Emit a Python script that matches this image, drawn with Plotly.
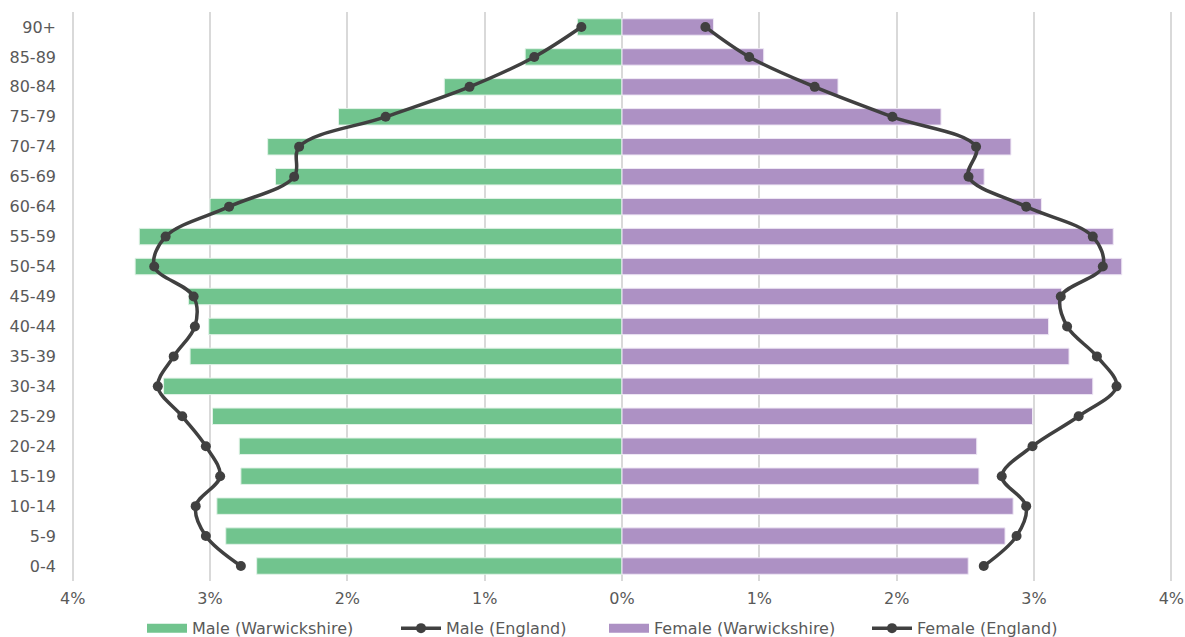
import plotly.graph_objects as go

age_groups = ["0-4", "5-9", "10-14", "15-19", "20-24", "25-29", "30-34", "35-39", "40-44",
              "45-49", "50-54", "55-59", "60-64", "65-69", "70-74", "75-79", "80-84", "85-89", "90+"]

# values in percent, listed from 0-4 up to 90+
male_warwickshire = [2.66, 2.885, 2.95, 2.775, 2.787, 2.982, 3.338, 3.145, 3.009,
                     3.157, 3.545, 3.515, 3.00, 2.523, 2.58, 2.064, 1.294, 0.705, 0.325]
male_england = [2.775, 3.03, 3.104, 2.926, 3.03, 3.202, 3.38, 3.264, 3.11,
                3.119, 3.406, 3.323, 2.861, 2.387, 2.351, 1.721, 1.11, 0.639, 0.296]
female_warwickshire = [2.521, 2.789, 2.848, 2.599, 2.583, 2.989, 3.428, 3.255, 3.106,
                       3.20, 3.639, 3.577, 3.054, 2.637, 2.832, 2.323, 1.573, 1.032, 0.666]
female_england = [2.634, 2.873, 2.943, 2.765, 2.989, 3.325, 3.601, 3.458, 3.241,
                  3.195, 3.501, 3.428, 2.943, 2.523, 2.578, 1.969, 1.403, 0.926, 0.607]

tick_vals = [-4, -3, -2, -1, 0, 1, 2, 3, 4]
tick_text = ["4%", "3%", "2%", "1%", "0%", "1%", "2%", "3%", "4%"]

green = "#71c48e"
purple = "#ad91c4"
dark = "#404040"
text_col = "#595959"
grid_col = "#d9d9d9"
FONT = "DejaVu Sans, Liberation Sans, sans-serif"

fig = go.Figure()
# bars (legend shown through rectangle-like legend entries below)
fig.add_trace(go.Bar(
    y=age_groups, x=[-v for v in male_warwickshire], orientation="h",
    name="Male (Warwickshire)", legendgroup="mw", showlegend=False,
    marker=dict(color=green, line=dict(color="#e2f3e8", width=1)),
))
fig.add_trace(go.Bar(
    y=age_groups, x=female_warwickshire, orientation="h",
    name="Female (Warwickshire)", legendgroup="fw", showlegend=False,
    marker=dict(color=purple, line=dict(color="#efe8f5", width=1)),
))
# legend entries, each in its own legend so they can be placed like the reference
fig.add_trace(go.Scatter(
    x=[None], y=[None], mode="lines", name="Male (Warwickshire)", legendgroup="mw",
    line=dict(color=green, width=9), legend="legend",
))
fig.add_trace(go.Scatter(
    y=age_groups, x=[-v for v in male_england], mode="lines+markers",
    name="Male (England)", line=dict(color=dark, width=3.5, shape="spline", smoothing=1.0),
    marker=dict(color=dark, size=10), legend="legend2",
))
fig.add_trace(go.Scatter(
    x=[None], y=[None], mode="lines", name="Female (Warwickshire)", legendgroup="fw",
    line=dict(color=purple, width=9), legend="legend3",
))
fig.add_trace(go.Scatter(
    y=age_groups, x=female_england, mode="lines+markers",
    name="Female (England)", line=dict(color=dark, width=3.5, shape="spline", smoothing=1.0),
    marker=dict(color=dark, size=10), legend="legend4",
))

PLOT_LEFT = 71
PLOT_W = 1102


def leg(px):
    return dict(orientation="h", x=(px - PLOT_LEFT) / PLOT_W, xanchor="left",
                y=-0.083, yanchor="middle", itemwidth=40,
                font=dict(family=FONT, size=16, color=text_col),
                bgcolor="rgba(0,0,0,0)")


fig.update_layout(
    width=1185, height=637,
    margin=dict(l=71, r=12, t=12, b=56, autoexpand=False),
    barmode="overlay",
    bargap=0.45,
    plot_bgcolor="white", paper_bgcolor="white",
    font=dict(family=FONT, size=16, color=text_col),
    showlegend=True,
    legend=leg(142),
    legend2=leg(396),
    legend3=leg(604),
    legend4=leg(867),
    xaxis=dict(range=[-4.012, 4.012], tickvals=tick_vals, ticktext=tick_text, automargin=False,
               showgrid=True, gridcolor=grid_col, gridwidth=1.5,
               zeroline=True, zerolinecolor=grid_col, zerolinewidth=1.5,
               showline=False, ticks="", ticklabelstandoff=6,
               tickfont=dict(family=FONT, size=16, color=text_col)),
    yaxis=dict(categoryorder="array", categoryarray=age_groups, range=[-0.5, 18.5],
               automargin=False, showgrid=False, zeroline=False, showline=False, ticks="",
               ticklabelstandoff=14,
               tickfont=dict(family=FONT, size=16, color=text_col)),
)

fig.write_html(
    "out.html",
    config={"displayModeBar": False},
    post_script="document.body.style.margin='0px';document.body.style.overflow='hidden';",
)
